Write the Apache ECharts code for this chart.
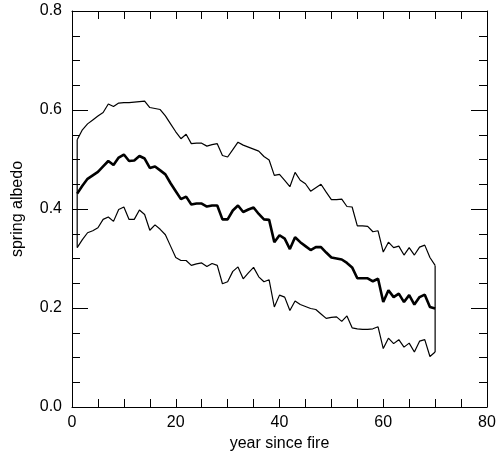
<!DOCTYPE html>
<html>
<head>
<meta charset="utf-8">
<script src="https://cdn.jsdelivr.net/npm/echarts@6/dist/echarts.min.js"></script>
<style>
html,body{margin:0;padding:0;background:#fff;}
#chart{width:503px;height:461px;}
</style>
</head>
<body>
<div id="chart"></div>
<script>
var years = [1,2,3,4,5,6,7,8,9,10,11,12,13,14,15,16,17,18,19,20,
  21,22,23,24,25,26,27,28,29,30,31,32,33,34,35,36,37,38,39,40,
  41,42,43,44,45,46,47,48,49,50,51,52,53,54,55,56,57,58,59,60,
  61,62,63,64,65,66,67,68,69,70];

var upperAlbedo = [0.540,0.560,0.572,0.580,0.588,0.595,0.612,0.607,0.614,0.615,
  0.615,0.616,0.617,0.618,0.605,0.603,0.601,0.588,0.572,0.556,
  0.542,0.551,0.532,0.533,0.533,0.527,0.530,0.532,0.508,0.505,
  0.520,0.535,0.529,0.525,0.521,0.517,0.506,0.499,0.468,0.470,
  0.458,0.445,0.474,0.458,0.451,0.436,0.443,0.450,0.434,0.419,
  0.419,0.420,0.405,0.404,0.366,0.366,0.365,0.354,0.356,0.313,
  0.333,0.322,0.325,0.307,0.322,0.307,0.323,0.327,0.302,0.286];

var meanAlbedo = [0.431,0.447,0.461,0.468,0.475,0.486,0.497,0.489,0.504,0.510,
  0.497,0.498,0.507,0.502,0.483,0.486,0.478,0.470,0.452,0.436,
  0.420,0.425,0.409,0.411,0.411,0.405,0.407,0.407,0.379,0.379,
  0.397,0.407,0.394,0.399,0.403,0.390,0.379,0.378,0.333,0.347,
  0.340,0.319,0.343,0.333,0.325,0.317,0.323,0.323,0.312,0.302,
  0.300,0.298,0.291,0.282,0.260,0.260,0.260,0.254,0.259,0.212,
  0.236,0.222,0.229,0.212,0.226,0.207,0.222,0.227,0.202,0.199];

var lowerAlbedo = [0.322,0.338,0.352,0.356,0.362,0.379,0.384,0.375,0.399,0.404,
  0.379,0.379,0.398,0.389,0.357,0.368,0.359,0.348,0.325,0.302,
  0.296,0.296,0.286,0.289,0.291,0.284,0.290,0.286,0.249,0.253,
  0.274,0.283,0.259,0.271,0.282,0.263,0.253,0.257,0.202,0.226,
  0.222,0.195,0.214,0.207,0.203,0.199,0.197,0.188,0.179,0.181,
  0.182,0.173,0.184,0.160,0.158,0.157,0.157,0.158,0.162,0.118,
  0.139,0.128,0.136,0.121,0.129,0.111,0.133,0.136,0.102,0.111];

var xTicks = [0,20,40,60,80];
var yTicks = [0.0,0.2,0.4,0.6,0.8];

function pairs(xs, ys){ return xs.map(function(x,i){ return [x, ys[i]]; }); }
var last = years.length - 1;
var startEdge = [[years[0], lowerAlbedo[0]], [years[0], upperAlbedo[0]]];
var endEdge = [[years[last], lowerAlbedo[last]], [years[last], upperAlbedo[last]]];

var FONT = 'Liberation Sans, Arial, Helvetica, sans-serif';
var chart = echarts.init(document.getElementById('chart'), null, {renderer:'canvas'});

var axisCommonX = {
  type:'value', min:xTicks[0], max:xTicks[xTicks.length-1], interval:20,
  axisLine:{show:true, onZero:false, lineStyle:{color:'#000', width:1}},
  axisTick:{show:true, inside:true, length:8, lineStyle:{color:'#000', width:1}},
  minorTick:{show:true, splitNumber:4, length:8, lineStyle:{color:'#000', width:1}},
  splitLine:{show:false}
};
var axisCommonY = {
  type:'value', min:yTicks[0], max:yTicks[yTicks.length-1], interval:0.2,
  axisLine:{show:true, onZero:false, lineStyle:{color:'#000', width:1}},
  axisTick:{show:true, inside:true, length:16, lineStyle:{color:'#000', width:1}},
  minorTick:{show:true, splitNumber:4, length:8, lineStyle:{color:'#000', width:1}},
  splitLine:{show:false}
};

chart.setOption({
  animation:false,
  backgroundColor:'#fff',
  grid:{left:72, right:16, top:11, bottom:54, containLabel:false},
  xAxis:[
    Object.assign({}, axisCommonX, {
      position:'bottom',
      name:'year since fire', nameLocation:'middle', nameGap:27,
      nameTextStyle:{color:'#000', fontSize:16, fontFamily:FONT},
      axisLabel:{show:true, color:'#000', fontSize:16, fontFamily:FONT, margin:8}
    }),
    Object.assign({}, axisCommonX, {position:'top', axisLabel:{show:false}})
  ],
  yAxis:[
    Object.assign({}, axisCommonY, {
      position:'left',
      name:'spring albedo', nameLocation:'middle', nameGap:46,
      nameTextStyle:{color:'#000', fontSize:16, fontFamily:FONT},
      axisLabel:{show:true, color:'#000', fontSize:16, fontFamily:FONT, margin:10,
        formatter:function(v){ return v.toFixed(1); }}
    }),
    Object.assign({}, axisCommonY, {position:'right', axisLabel:{show:false}})
  ],
  series:[
    {type:'line', data:pairs(years, upperAlbedo), showSymbol:false, symbol:'none',
      lineStyle:{color:'#000', width:1.2}, z:3},
    {type:'line', data:pairs(years, lowerAlbedo), showSymbol:false, symbol:'none',
      lineStyle:{color:'#000', width:1.2}, z:3},
    {type:'line', data:pairs(years, meanAlbedo), showSymbol:false, symbol:'none',
      lineStyle:{color:'#000', width:2.6}, z:4},
    {type:'line', data:startEdge, showSymbol:false, symbol:'none',
      lineStyle:{color:'#000', width:1.2}, z:3},
    {type:'line', data:endEdge, showSymbol:false, symbol:'none',
      lineStyle:{color:'#000', width:1.2}, z:3}
  ]
});
</script>
</body>
</html>
